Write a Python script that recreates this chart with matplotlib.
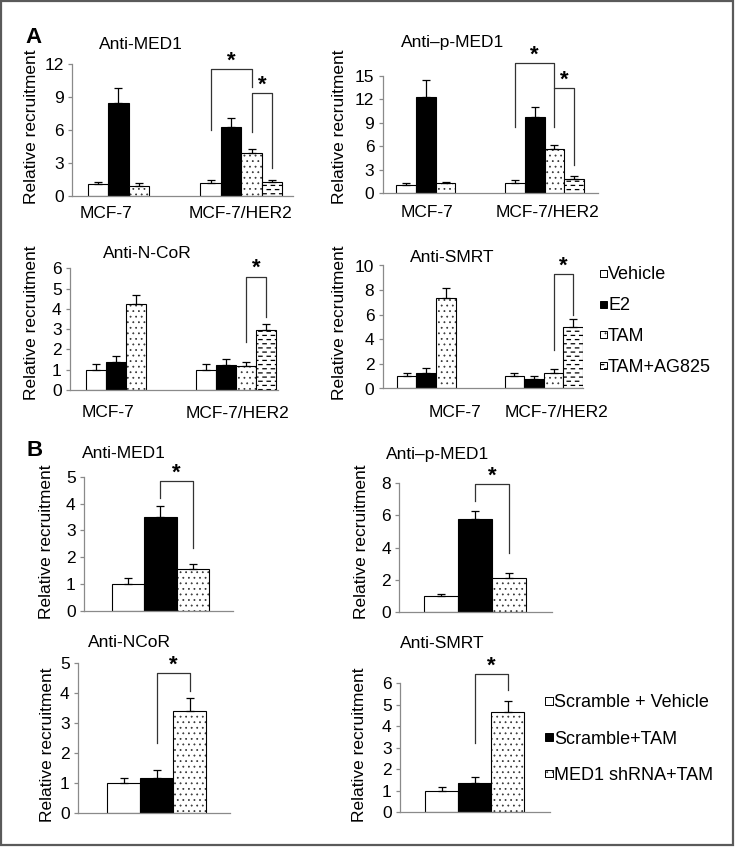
import numpy as np
import matplotlib
matplotlib.use('Agg')
import matplotlib.pyplot as plt
import matplotlib.hatch as mhatch
from matplotlib.path import Path
from matplotlib.patches import Rectangle

# ---- data ----
groups = ['MCF-7', 'MCF-7/HER2']
treat_a = ['Vehicle', 'E2', 'TAM', 'TAM+AG825']
treat_b = ['Scramble + Vehicle', 'Scramble+TAM', 'MED1 shRNA+TAM']

a_titles = ['Anti-MED1', 'Anti\u2013p-MED1', 'Anti-N-CoR', 'Anti-SMRT']
a_mcf7 = [[1.05, 8.5, 0.95], [1.0, 12.3, 1.25], [1.0, 1.4, 4.23], [1.0, 1.25, 7.35]]
a_mcf7_err = [[0.2, 1.3, 0.2], [0.3, 2.1, 0.2], [0.3, 0.27, 0.47], [0.3, 0.4, 0.8]]
a_her2 = [[1.15, 6.25, 3.95, 1.25], [1.3, 9.7, 5.6, 1.8],
          [1.0, 1.25, 1.2, 2.95], [1.0, 0.75, 1.3, 5.0]]
a_her2_err = [[0.3, 0.9, 0.33, 0.2], [0.45, 1.3, 0.6, 0.4],
              [0.28, 0.26, 0.2, 0.3], [0.3, 0.3, 0.27, 0.65]]
a_ymax = [12, 15, 6, 10]
a_ystep = [3, 3, 1, 2]

b_titles = ['Anti-MED1', 'Anti\u2013p-MED1', 'Anti-NCoR', 'Anti-SMRT']
b_vals = [[1.0, 3.5, 1.58], [1.0, 5.8, 2.12], [1.0, 1.17, 3.39], [1.0, 1.37, 4.65]]
b_err = [[0.24, 0.4, 0.17], [0.1, 0.5, 0.3], [0.15, 0.25, 0.42], [0.18, 0.28, 0.52]]
b_ymax = [5, 8, 5, 6]
b_ystep = [1, 2, 1, 1]


# ---- custom hatches: small dots and staggered dashes ----
# (matplotlib's Shapes hatch needs an even number of rows)
class Dots(mhatch.Circles):
    size = 0.05
    filled = True

    def __init__(self, hatch, density):
        self.num_rows = hatch.count('o') * 6
        super().__init__(hatch, density)


class Dashes(mhatch.HatchPatternBase):
    # short horizontal dashes, rows shifted by half a step
    def __init__(self, hatch, density):
        self.cols = hatch.count('*') * 4
        self.rows = self.cols * 2
        self.num_vertices = 2 * self.cols * self.rows

    def set_vertices_and_codes(self, vertices, codes):
        d = 0.2 / self.cols
        pts = []
        for r in range(self.rows):
            shift = 0.5 / self.cols if r % 2 else 0.0
            y = (r + 0.5) / self.rows
            for c in range(self.cols):
                x = (c + 0.25) / self.cols + shift
                pts += [[x - d, y], [x + d, y]]
        vertices[:] = pts
        codes[0::2] = Path.MOVETO
        codes[1::2] = Path.LINETO


mhatch._hatch_types[mhatch._hatch_types.index(mhatch.SmallCircles)] = Dots
mhatch._hatch_types[mhatch._hatch_types.index(mhatch.Stars)] = Dashes

plt.rcParams['font.family'] = ['Liberation Sans', 'DejaVu Sans']
plt.rcParams['hatch.linewidth'] = 0.9

W, H = 737, 847
fig = plt.figure(figsize=(W / 100, H / 100), dpi=100)


def px(x, y):
    return x / W, 1 - y / H


FS = 12.5
faces_a = ['white', 'black', 'white', 'white']
hatch_a = ['', '', 'ooo', '***']
faces_b = ['white', 'black', 'white']
hatch_b = ['', '', 'ooo']
GAP = 5.5  # start of second group, in bar widths

# left spine, right end, top tick, zero line, first bar left edge, bar width (pixels)
a_boxes = [(72, 293, 64.3, 196, 87.7, 20.5), (382.7, 598, 75.7, 193.3, 396, 19.8),
           (70, 278, 268.3, 390, 86, 20), (382.7, 583, 265.5, 388.5, 396.7, 19.6)]
b_boxes = [(84, 233, 476.7, 611, 111.7, 32.5), (399.3, 551.7, 483.3, 611.7, 424.3, 33.8),
           (78, 230, 662.7, 812.7, 107.3, 32.9), (400, 550, 683.3, 812, 425, 33.1)]


def make_ax(box, ymax, step):
    l, r, t, b, p0, w = box
    ax = fig.add_axes([l / W, 1 - b / H, (r - l) / W, (b - t) / H])
    ax.set_xlim(-0.5 - (p0 - l) / w, -0.5 + (r - p0) / w)
    ax.set_ylim(0, ymax)
    ax.set_yticks(np.arange(0, ymax + 0.01, step))
    ax.set_xticks([])
    for s in ['top', 'right']:
        ax.spines[s].set_visible(False)
    for s in ['left', 'bottom']:
        ax.spines[s].set_color('#8a8a8a')
        ax.spines[s].set_linewidth(0.9)
    ax.tick_params(axis='y', length=3, width=0.9, color='#8a8a8a', labelsize=FS, pad=3)
    ax.patch.set_visible(False)
    return ax


def draw_bars(ax, xs, vals, errs, faces, hatches):
    for x, v, f, h in zip(xs, vals, faces, hatches):
        ax.bar(x, v, width=1, color=f, edgecolor='black', hatch=h, linewidth=0.8, zorder=2)
    ax.errorbar(xs, vals, yerr=[np.zeros(len(vals)), errs], fmt='none', ecolor='black',
                elinewidth=0.9, capsize=3, capthick=0.9, zorder=3)


def bracket(ax, x1, x2, top, y1, y2):
    ax.plot([x1, x1, x2, x2], [y1, top, top, y2], color='#333333', lw=0.9, clip_on=False)
    ax.annotate('*', xy=((x1 + x2) / 2, top), xytext=(0, 1.8), textcoords='offset points',
                ha='center', va='baseline', fontsize=16, fontweight='bold', annotation_clip=False)


# ---- panel A ----
a_brackets = [[(5.5, 7.5, 11.54, 6.01, 9.9), (7.5, 8.5, 9.35, 5.86, 2.52)],
              [(5.5, 7.5, 16.58, 8.49, 13.39), (7.5, 8.5, 13.39, 8.49, 3.61)],
              [(7.5, 8.5, 5.59, 2.38, 3.61)],
              [(7.5, 8.5, 9.31, 3.13, 5.98)]]
a_title_pos = [(141, 49.3), (453, 46.7), (147, 258.3), (452, 261.7)]
a_ylab_pos = [(32, 127), (340, 127), (32, 323), (340, 323)]
a_group_pos = [[(106, 218.3), (241, 218.3)], [(426.7, 216.7), (547.5, 216.7)],
               [(107.7, 416.7), (237.5, 418.3)], [(455, 416.7), (556.7, 416.7)]]

for k in range(4):
    ax = make_ax(a_boxes[k], a_ymax[k], a_ystep[k])
    draw_bars(ax, np.arange(3), a_mcf7[k], a_mcf7_err[k], faces_a[:3], hatch_a[:3])
    draw_bars(ax, GAP + np.arange(4), a_her2[k], a_her2_err[k], faces_a, hatch_a)
    for br in a_brackets[k]:
        bracket(ax, *br)
    fig.text(*px(*a_title_pos[k]), a_titles[k], ha='center', va='baseline', fontsize=FS)
    fig.text(*px(*a_ylab_pos[k]), 'Relative recruitment', rotation=90,
             ha='center', va='center', fontsize=FS)
    for name, pos in zip(groups, a_group_pos[k]):
        fig.text(*px(*pos), name, ha='center', va='baseline', fontsize=FS)

# ---- panel B ----
b_brackets = [(1, 2, 4.84, 4.2, 2.33), (1, 2, 7.94, 6.9, 3.64),
              (1, 2, 4.65, 2.33, 4.06), (1, 2, 6.42, 3.2, 5.69)]
b_title_pos = [(124, 458.3), (438, 459), (129, 646.7), (442.5, 648)]
b_ylab_pos = [(47, 542), (361, 542), (48, 745), (360, 745)]

for k in range(4):
    ax = make_ax(b_boxes[k], b_ymax[k], b_ystep[k])
    draw_bars(ax, np.arange(3), b_vals[k], b_err[k], faces_b, hatch_b)
    bracket(ax, *b_brackets[k])
    fig.text(*px(*b_title_pos[k]), b_titles[k], ha='center', va='baseline', fontsize=FS)
    fig.text(*px(*b_ylab_pos[k]), 'Relative recruitment', rotation=90,
             ha='center', va='center', fontsize=FS)


# ---- legends drawn as little boxes + text ----
def legend(names, faces, hatches, x, y0, dy, size, fs):
    for i, (n, f, h) in enumerate(zip(names, faces, hatches)):
        base = y0 + i * dy
        fig.add_artist(Rectangle(px(x, base - 2.5), size / W, size / H, transform=fig.transFigure,
                                 facecolor=f, edgecolor='black', hatch=h, linewidth=0.7))
        fig.text(*px(x + size + 1.5, base), n, ha='left', va='baseline', fontsize=fs)


legend(treat_a, faces_a, hatch_a, 599.5, 279.3, 30.8, 7, 13)
legend(treat_b, faces_b, hatch_b, 545, 707.3, 36.3, 7.7, 13)

# panel letters
fig.text(*px(25, 43), 'A', fontsize=16, fontweight='bold', va='baseline')
fig.text(*px(27, 456), 'B', fontsize=16, fontweight='bold', va='baseline')

# outer frame
fig.add_artist(Rectangle(px(1.5, 845), 731.5 / W, 843.5 / H, transform=fig.transFigure,
                         fill=False, edgecolor='#5a5a5a', linewidth=1.6))

fig.savefig('out.png', dpi=100)
